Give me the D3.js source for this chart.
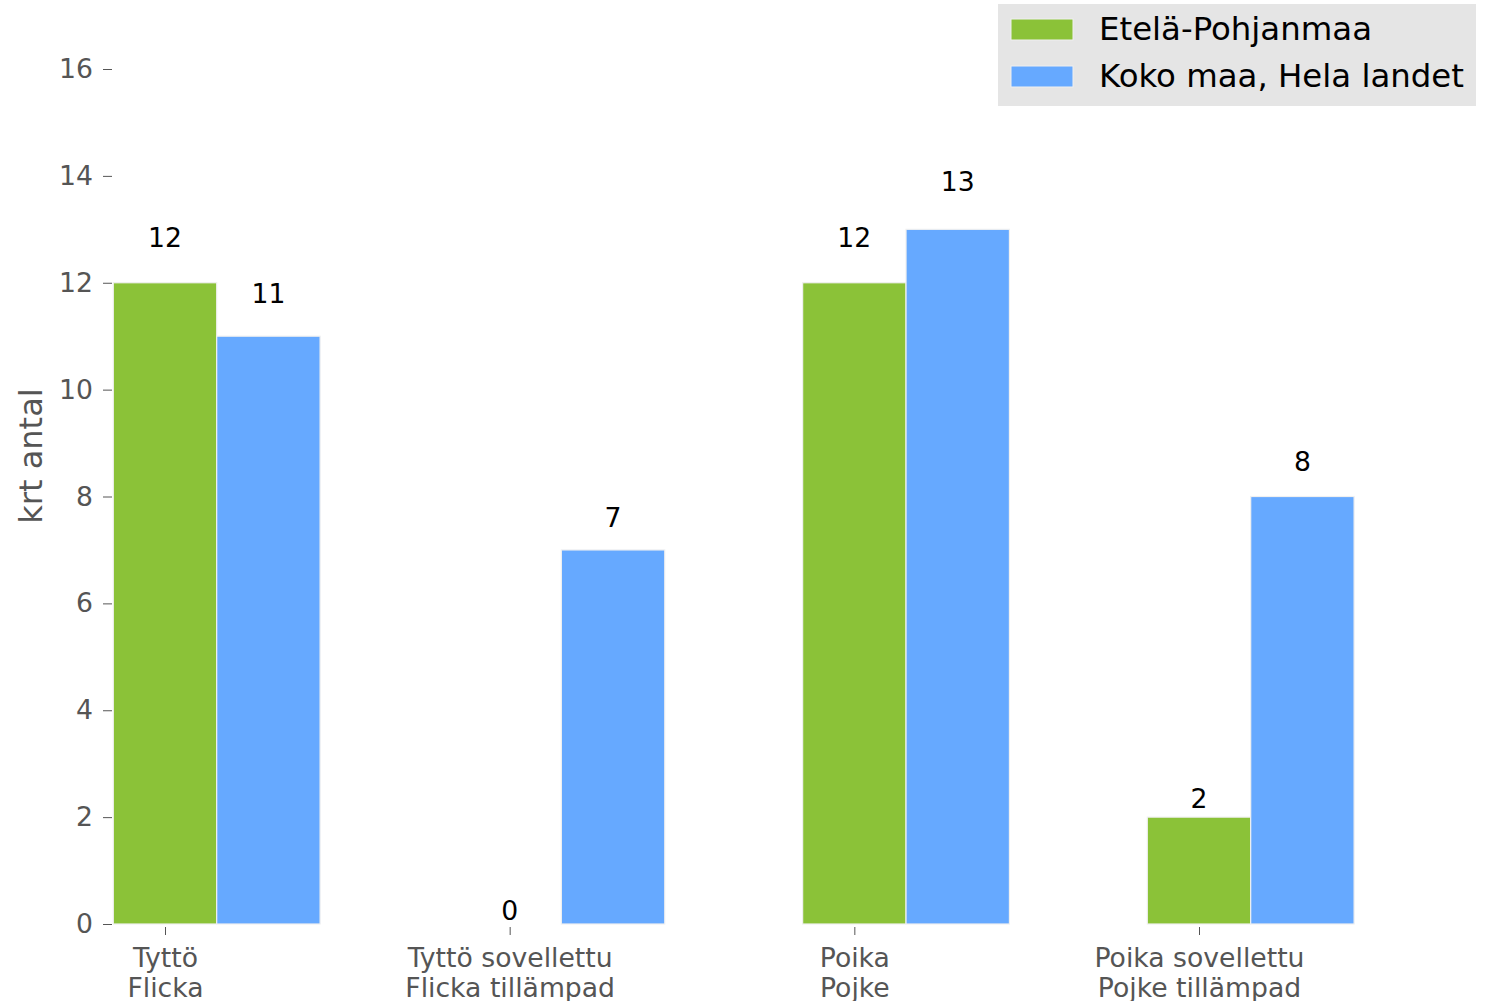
<!DOCTYPE html>
<html>
<head>
<meta charset="utf-8">
<script src="https://cdn.jsdelivr.net/npm/d3@7"></script>
<style>
  html, body { margin: 0; padding: 0; background: #fff; }
  svg { display: block; font-family: "DejaVu Sans", sans-serif; }
</style>
</head>
<body>
<svg id="chart" width="1486" height="1001"></svg>
<script>
const categoriesLine1 = ["Tyttö", "Tyttö sovellettu", "Poika", "Poika sovellettu"];
const categoriesLine2 = ["Flicka", "Flicka tillämpad", "Pojke", "Pojke tillämpad"];
const seriesNames = ["Etelä-Pohjanmaa", "Koko maa, Hela landet"];
const seriesEtela = [12, 0, 12, 2];
const seriesKoko = [11, 7, 13, 8];
const yTicks = [0, 2, 4, 6, 8, 10, 12, 14, 16];
const colors = ["#8bc238", "#66a9ff"];
const yLabel = "krt antal";

const svg = d3.select("#chart");

const x = d3.scaleLinear().domain([-0.15, 3.45]).range([113.3, 1354.1]);
const y = d3.scaleLinear().domain([0, 16]).range([924, 69]);
const barW = 0.3;

// Bars
const series = [seriesEtela, seriesKoko];
series.forEach((vals, si) => {
  const g = svg.append("g");
  g.selectAll("rect").data(vals).enter().append("rect")
    .attr("x", (d, i) => x(i - barW / 2 + si * barW))
    .attr("width", (d, i) => x(i + barW / 2 + si * barW) - x(i - barW / 2 + si * barW))
    .attr("y", d => y(d))
    .attr("height", d => y(0) - y(d))
    .attr("fill", colors[si])
    .attr("stroke", d => d > 0 ? "#f0f0f0" : "none")
    .attr("stroke-width", 1.2);
  // value labels
  g.selectAll("text").data(vals).enter().append("text")
    .attr("x", (d, i) => x(i + si * barW))
    .attr("y", d => y(d * 1.05) - 4)
    .attr("text-anchor", "middle")
    .attr("font-size", "26.67px")
    .attr("fill", "#000")
    .text(d => d);
});

// Y axis
const yAxis = d3.axisLeft(y).tickValues(yTicks).tickSize(9).tickPadding(10).tickFormat(d3.format("d"));
const yg = svg.append("g").attr("transform", "translate(112,0)").call(yAxis);
yg.select(".domain").remove();
yg.selectAll(".tick line").attr("stroke", "#555").attr("stroke-width", 1);
yg.selectAll(".tick text").attr("fill", "#555").attr("font-size", "26.67px")
  .attr("font-family", "DejaVu Sans, sans-serif");

// X axis
const xAxis = d3.axisBottom(x).tickValues(d3.range(categoriesLine1.length)).tickSize(8).tickFormat("");
const xg = svg.append("g").attr("transform", "translate(0,927)").call(xAxis);
xg.select(".domain").remove();
xg.selectAll(".tick line").attr("stroke", "#555").attr("stroke-width", 1);
xg.selectAll(".tick text").remove();
xg.selectAll(".tick").each(function(d, i) {
  const t = d3.select(this).append("text")
    .attr("text-anchor", "middle")
    .attr("fill", "#555")
    .attr("font-size", "26.67px")
    .attr("font-family", "DejaVu Sans, sans-serif");
  t.append("tspan").attr("x", 0).attr("y", 40).text(categoriesLine1[i]);
  t.append("tspan").attr("x", 0).attr("y", 70).text(categoriesLine2[i]);
});

// Y label
svg.append("text")
  .attr("transform", "translate(42,456) rotate(-90)")
  .attr("text-anchor", "middle")
  .attr("font-size", "32px")
  .attr("fill", "#555")
  .text(yLabel);

// Legend
const lg = svg.append("g");
lg.append("rect").attr("x", 998).attr("y", 4).attr("width", 478).attr("height", 102).attr("fill", "#e5e5e5");
const legY = [19, 66];
const legBase = [39.5, 86.5];
seriesNames.forEach((name, i) => {
  lg.append("rect").attr("x", 1011).attr("y", legY[i]).attr("width", 62).attr("height", 21)
    .attr("fill", colors[i]).attr("stroke", "#f0f0f0").attr("stroke-width", 1);
  lg.append("text").attr("x", 1099).attr("y", legBase[i])
    .attr("font-size", "32.4px").attr("fill", "#000").text(name);
});
</script>
</body>
</html>
